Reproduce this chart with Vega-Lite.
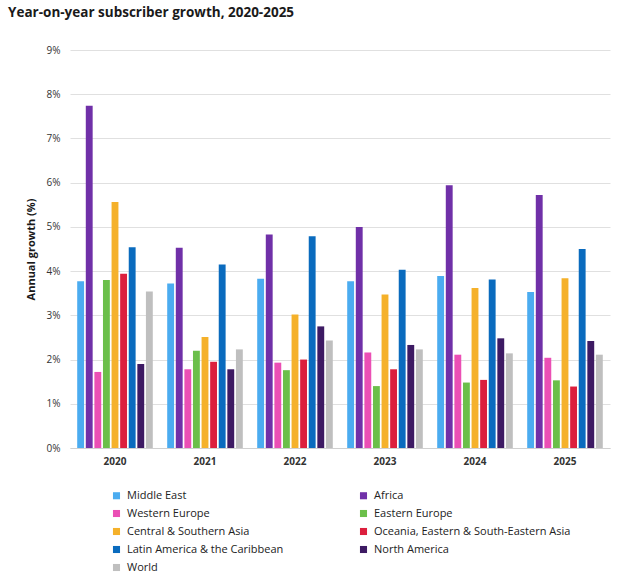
{
  "$schema": "https://vega.github.io/schema/vega-lite/v6.json",
  "width": 540,
  "height": 398,
  "autosize": {"type": "none"},
  "padding": {"left": 70, "top": 50, "right": 20, "bottom": 136},
  "background": "white",
  "title": {
    "text": "Year-on-year subscriber growth, 2020-2025",
    "anchor": "start",
    "frame": "group",
    "dx": -62,
    "offset": 26,
    "font": "Open Sans",
    "fontSize": 13.5,
    "fontWeight": "bold",
    "color": "#1a1a1a"
  },
  "config": {
    "view": {"stroke": null},
    "font": "Open Sans"
  },
  "data": {
    "values": [
      {"year": "2020", "region": "Middle East", "growth": 3.77},
      {"year": "2020", "region": "Africa", "growth": 7.74},
      {"year": "2020", "region": "Western Europe", "growth": 1.72},
      {"year": "2020", "region": "Eastern Europe", "growth": 3.8},
      {"year": "2020", "region": "Central & Southern Asia", "growth": 5.56},
      {"year": "2020", "region": "Oceania, Eastern & South-Eastern Asia", "growth": 3.94},
      {"year": "2020", "region": "Latin America & the Caribbean", "growth": 4.54},
      {"year": "2020", "region": "North America", "growth": 1.9},
      {"year": "2020", "region": "World", "growth": 3.54},
      {"year": "2021", "region": "Middle East", "growth": 3.72},
      {"year": "2021", "region": "Africa", "growth": 4.53},
      {"year": "2021", "region": "Western Europe", "growth": 1.78},
      {"year": "2021", "region": "Eastern Europe", "growth": 2.2},
      {"year": "2021", "region": "Central & Southern Asia", "growth": 2.51},
      {"year": "2021", "region": "Oceania, Eastern & South-Eastern Asia", "growth": 1.95},
      {"year": "2021", "region": "Latin America & the Caribbean", "growth": 4.15},
      {"year": "2021", "region": "North America", "growth": 1.78},
      {"year": "2021", "region": "World", "growth": 2.23},
      {"year": "2022", "region": "Middle East", "growth": 3.83},
      {"year": "2022", "region": "Africa", "growth": 4.83},
      {"year": "2022", "region": "Western Europe", "growth": 1.93},
      {"year": "2022", "region": "Eastern Europe", "growth": 1.76},
      {"year": "2022", "region": "Central & Southern Asia", "growth": 3.02},
      {"year": "2022", "region": "Oceania, Eastern & South-Eastern Asia", "growth": 2.0},
      {"year": "2022", "region": "Latin America & the Caribbean", "growth": 4.79},
      {"year": "2022", "region": "North America", "growth": 2.75},
      {"year": "2022", "region": "World", "growth": 2.43},
      {"year": "2023", "region": "Middle East", "growth": 3.77},
      {"year": "2023", "region": "Africa", "growth": 5.0},
      {"year": "2023", "region": "Western Europe", "growth": 2.16},
      {"year": "2023", "region": "Eastern Europe", "growth": 1.4},
      {"year": "2023", "region": "Central & Southern Asia", "growth": 3.47},
      {"year": "2023", "region": "Oceania, Eastern & South-Eastern Asia", "growth": 1.78},
      {"year": "2023", "region": "Latin America & the Caribbean", "growth": 4.03},
      {"year": "2023", "region": "North America", "growth": 2.33},
      {"year": "2023", "region": "World", "growth": 2.23},
      {"year": "2024", "region": "Middle East", "growth": 3.89},
      {"year": "2024", "region": "Africa", "growth": 5.94},
      {"year": "2024", "region": "Western Europe", "growth": 2.11},
      {"year": "2024", "region": "Eastern Europe", "growth": 1.48},
      {"year": "2024", "region": "Central & Southern Asia", "growth": 3.62},
      {"year": "2024", "region": "Oceania, Eastern & South-Eastern Asia", "growth": 1.54},
      {"year": "2024", "region": "Latin America & the Caribbean", "growth": 3.81},
      {"year": "2024", "region": "North America", "growth": 2.48},
      {"year": "2024", "region": "World", "growth": 2.14},
      {"year": "2025", "region": "Middle East", "growth": 3.53},
      {"year": "2025", "region": "Africa", "growth": 5.72},
      {"year": "2025", "region": "Western Europe", "growth": 2.04},
      {"year": "2025", "region": "Eastern Europe", "growth": 1.53},
      {"year": "2025", "region": "Central & Southern Asia", "growth": 3.84},
      {"year": "2025", "region": "Oceania, Eastern & South-Eastern Asia", "growth": 1.39},
      {"year": "2025", "region": "Latin America & the Caribbean", "growth": 4.5},
      {"year": "2025", "region": "North America", "growth": 2.42},
      {"year": "2025", "region": "World", "growth": 2.11}
    ]
  },
  "mark": {"type": "bar"},
  "encoding": {
    "x": {
      "field": "year",
      "type": "nominal",
      "scale": {"paddingInner": 0.16, "paddingOuter": 0.08},
      "axis": {
        "title": null,
        "labelAngle": 0,
        "labelFont": "Open Sans",
        "labelFontSize": 10,
        "labelFontWeight": "bold",
        "labelColor": "#333333",
        "labelPadding": 8,
        "ticks": false,
        "domainColor": "#d0d0d0",
        "grid": false
      }
    },
    "xOffset": {
      "field": "region",
      "type": "nominal",
      "sort": ["Middle East", "Africa", "Western Europe", "Eastern Europe", "Central & Southern Asia", "Oceania, Eastern & South-Eastern Asia", "Latin America & the Caribbean", "North America", "World"],
      "scale": {"paddingInner": 0.2, "paddingOuter": 0}
    },
    "y": {
      "field": "growth",
      "type": "quantitative",
      "scale": {"domain": [0, 9], "nice": false},
      "axis": {
        "title": "Annual growth (%)",
        "titleFont": "Open Sans",
        "titleFontSize": 11,
        "titleFontWeight": "bold",
        "titleColor": "#1a1a1a",
        "titlePadding": 10,
        "values": [0, 1, 2, 3, 4, 5, 6, 7, 8, 9],
        "labelExpr": "datum.value + '%'",
        "labelFont": "Open Sans",
        "labelFontSize": 10,
        "labelColor": "#333333",
        "labelPadding": 10,
        "ticks": false,
        "domain": false,
        "gridColor": "#e0e0e0",
        "gridWidth": 1
      }
    },
    "color": {
      "field": "region",
      "type": "nominal",
      "sort": ["Middle East", "Africa", "Western Europe", "Eastern Europe", "Central & Southern Asia", "Oceania, Eastern & South-Eastern Asia", "Latin America & the Caribbean", "North America", "World"],
      "scale": {
        "domain": ["Middle East", "Africa", "Western Europe", "Eastern Europe", "Central & Southern Asia", "Oceania, Eastern & South-Eastern Asia", "Latin America & the Caribbean", "North America", "World"],
        "range": ["#4BACF0", "#7030A8", "#EB4FB5", "#6BBF4A", "#F5B12A", "#DC1F3D", "#0A6BBE", "#3D1A63", "#BFBFBF"]
      },
      "legend": {
        "title": null,
        "orient": "none",
        "legendX": 41,
        "legendY": 440,
        "columns": 2,
        "direction": "horizontal",
        "columnPadding": 74,
        "rowPadding": 6,
        "symbolType": "square",
        "symbolSize": 50,
        "symbolStrokeWidth": 0,
        "labelOffset": 5,
        "labelFont": "Open Sans",
        "labelFontSize": 11,
        "labelColor": "#222222",
        "labelLimit": 300
      }
    }
  }
}
